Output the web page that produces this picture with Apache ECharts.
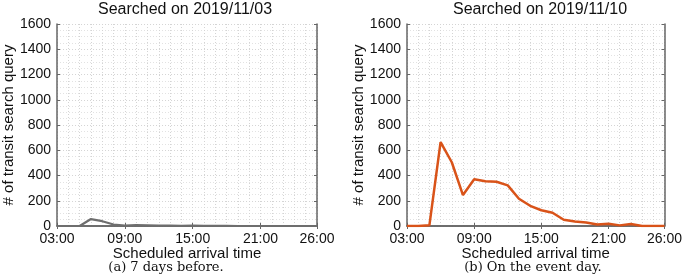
<!DOCTYPE html>
<html>
<head>
<meta charset="utf-8">
<script src="https://cdn.jsdelivr.net/npm/echarts@6/dist/echarts.min.js"></script>
<style>
  html, body { margin: 0; padding: 0; background: #fff; }
  #chart { width: 685px; height: 276px; }
</style>
</head>
<body>
<div id="chart"></div>
<script>
// hourly bins of scheduled arrival time
var hours = ['03:00', '04:00', '05:00', '06:00', '07:00', '08:00', '09:00', '10:00',
  '11:00', '12:00', '13:00', '14:00', '15:00', '16:00', '17:00', '18:00',
  '19:00', '20:00', '21:00', '22:00', '23:00', '24:00', '25:00', '26:00']
// searched on 2019/11/03 (7 days before)
var before = [0, 0, 0, 55, 38, 12, 3, 7, 6, 4, 3, 2, 3, 2, 1, 1, 0, 0, 0, 0, 0, 0, 0, 0]
// searched on 2019/11/10 (event day)
var eventDay = [0, 0, 5, 665, 505, 245, 370, 355, 350, 322, 216, 160, 125, 105, 50, 36, 28, 12, 18, 5, 16, 0, 0, 0]

var titles = ['Searched on 2019/11/03', 'Searched on 2019/11/10']
var captions = ['(a) 7 days before.', '(b) On the event day.']

var sans = 'Liberation Sans'
var textColor = '#111'
var boxColor = '#666'
var majorTick = function (idx) { return idx % 6 === 0 || idx === hours.length - 1 }

var grids = [
  { left: 55, top: 24, width: 262, height: 202 },
  { left: 407, top: 24, width: 264, height: 202 }
]

var xAxes = []
var yAxes = []
grids.forEach(function (g, i) {
  // bottom axis with labels
  xAxes.push({
    gridIndex: i, type: 'category', data: hours, boundaryGap: false,
    axisLine: { lineStyle: { color: boxColor, width: 1.5 } },
    axisTick: { inside: true, length: 3, interval: function (idx) { return majorTick(idx) }, lineStyle: { color: boxColor } },
    axisLabel: { interval: function (idx) { return majorTick(idx) }, color: textColor, fontFamily: sans, fontSize: 14, margin: 6 },
    splitLine: { show: true, interval: 0, lineStyle: { color: '#d4d4d4', type: [1, 2], width: 1 } },
    name: 'Scheduled arrival time', nameLocation: 'middle', nameGap: 20, nameMoveOverlap: false,
    nameTextStyle: { color: textColor, fontFamily: sans, fontSize: 15 }
  })
  // top mirror
  xAxes.push({
    gridIndex: i, type: 'category', data: hours, boundaryGap: false, position: 'top',
    axisLine: { lineStyle: { color: boxColor, width: 1.5 } },
    axisTick: { inside: true, length: 3, interval: function (idx) { return majorTick(idx) }, lineStyle: { color: boxColor } },
    axisLabel: { show: false }, splitLine: { show: false }
  })
  yAxes.push({
    gridIndex: i, type: 'value', min: 0, max: 1600, interval: 200,
    axisLine: { show: true, lineStyle: { color: boxColor, width: 1.5 } },
    axisTick: { show: true, inside: true, length: 3, lineStyle: { color: boxColor } },
    axisLabel: { color: textColor, fontFamily: sans, fontSize: 14, margin: 6, formatter: function (v) { return String(v) } },
    splitLine: { show: true, lineStyle: { color: '#d4d4d4', type: [1, 2], width: 1 } },
    minorTick: { show: false, splitNumber: 4 },
    minorSplitLine: { show: true, lineStyle: { color: '#e2e2e2', type: [1, 2], width: 1 } },
    name: '# of transit search query', nameLocation: 'middle', nameGap: 38, nameRotate: 90,
    nameTextStyle: { color: textColor, fontFamily: sans, fontSize: 15 }
  })
  yAxes.push({
    gridIndex: i, type: 'value', min: 0, max: 1600, interval: 200, position: 'right',
    axisLine: { show: true, lineStyle: { color: boxColor, width: 1.5 } },
    axisTick: { show: true, inside: true, length: 3, lineStyle: { color: boxColor } },
    axisLabel: { show: false }, splitLine: { show: false }
  })
})

var chart = echarts.init(document.getElementById('chart'), null, { renderer: 'canvas' })
chart.setOption({
  animation: false,
  backgroundColor: '#fff',
  title: [
    { text: titles[0], left: 180, top: -3, textAlign: 'center', textStyle: { fontFamily: sans, fontSize: 16, fontWeight: 'normal', color: textColor } },
    { text: titles[1], left: 535, top: -3, textAlign: 'center', textStyle: { fontFamily: sans, fontSize: 16, fontWeight: 'normal', color: textColor } },
    { text: captions[0], left: 166, top: 261, padding: 0, textAlign: 'center', textStyle: { fontFamily: 'DejaVu Serif', fontSize: 13, fontWeight: 'normal', color: textColor } },
    { text: captions[1], left: 533, top: 261, padding: 0, textAlign: 'center', textStyle: { fontFamily: 'DejaVu Serif', fontSize: 13, fontWeight: 'normal', color: textColor } }
  ],
  grid: grids,
  xAxis: xAxes,
  yAxis: yAxes,
  series: [
    {
      type: 'line', xAxisIndex: 0, yAxisIndex: 0, data: before,
      symbol: 'none', lineStyle: { color: '#6e6e6e', width: 2.2 }
    },
    {
      type: 'line', xAxisIndex: 2, yAxisIndex: 2, data: eventDay,
      symbol: 'none', lineStyle: { color: '#d95319', width: 2.5 }
    }
  ]
})
</script>
</body>
</html>
